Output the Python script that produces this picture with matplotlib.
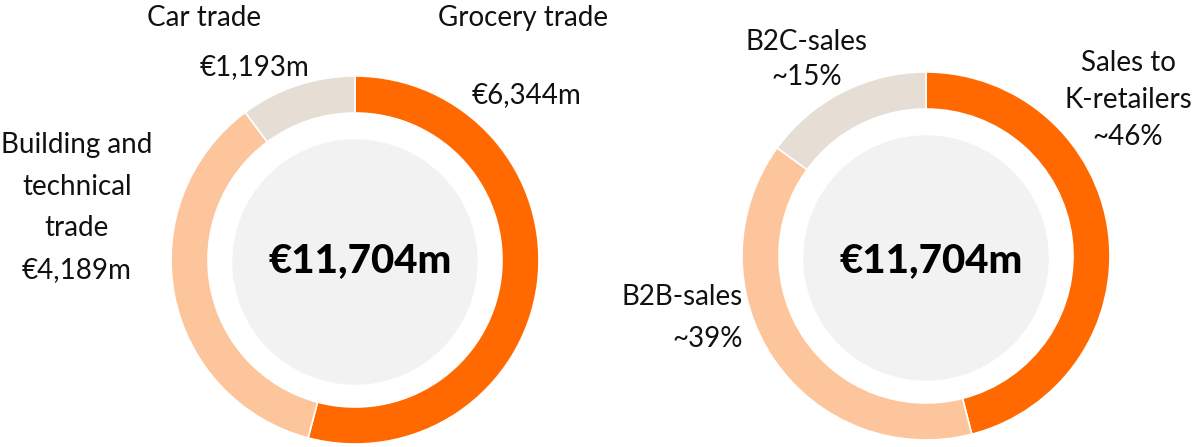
import matplotlib
matplotlib.use('Agg')
import matplotlib.pyplot as plt
from matplotlib.patches import Circle

plt.rcParams['font.family'] = ['Lato', 'DejaVu Sans']

# data
left_labels = ['Grocery trade', 'Building and technical trade', 'Car trade']
left_values = [6344, 4189, 1193]
right_labels = ['Sales to K-retailers', 'B2B-sales', 'B2C-sales']
right_values = [46, 39, 15]
total_text = '€11,704m'

colors = ['#ff6900', '#fdc59b', '#e6ddd4']

W, H = 1197, 447
fig = plt.figure(figsize=(W / 100, H / 100), dpi=100)
ax = fig.add_axes([0, 0, 1, 1])


def donut(values, cx, cy, ty):
    # cy in pixel coordinates from the top
    c = (cx, H - cy)
    ax.pie(values, center=c, radius=184, startangle=90, counterclock=False,
           colors=colors, wedgeprops=dict(width=37, edgecolor='white', linewidth=1.2))
    ax.add_patch(Circle((cx, H - cy - 2), 122, color='#f2f2f2', zorder=3))
    ax.text(cx + 5, H - ty, total_text, ha='center', va='center', fontsize=29,
            fontweight='black', color='black', zorder=4)


donut(left_values, 355, 260, 261)
donut(right_values, 926, 256, 261)


def label(x, y, lines, step=0, ha='center'):
    for i, s in enumerate(lines):
        ax.text(x, H - (y + i * step), s, ha=ha, va='center', fontsize=20,
                color='#111111')


# left labels
label(204, 18, ['Car trade'])
label(523, 18, ['Grocery trade'])
label(255, 67, ['€1,193m'])
label(526, 95, ['€6,344m'])
label(77, 145, ['Building and', 'technical', 'trade', '€4,189m'], step=41.7)

# right labels
label(807, 42, ['B2C-sales', '~15%'], step=35)
label(1128, 63, ['Sales to', 'K-retailers', '~46%'], step=37)
label(743, 297, ['B2B-sales', '~39%'], step=42, ha='right')

ax.set_xlim(0, W)
ax.set_ylim(0, H)
ax.set_aspect('equal')
ax.axis('off')

fig.savefig('out.png', dpi=100)
